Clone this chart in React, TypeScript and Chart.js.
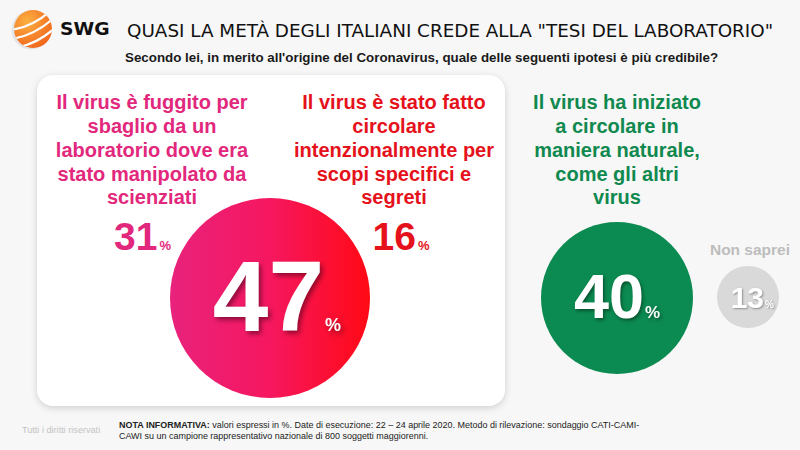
import React, { useEffect, useLayoutEffect, useRef } from 'react';
import { Chart, registerables } from 'chart.js';

Chart.register(...registerables);

// ---------- data ----------
const titleText = 'QUASI LA METÀ DEGLI ITALIANI CREDE ALLA "TESI DEL LABORATORIO"';
const subtitleText = "Secondo lei, in merito all'origine del Coronavirus, quale delle seguenti ipotesi è più credibile?";
const answerLines: string[][] = [
  ['Il virus è fuggito per', 'sbaglio da un', 'laboratorio dove era', 'stato manipolato da', 'scienziati'],
  ['Il virus è stato fatto', 'circolare', 'intenzionalmente per', 'scopi specifici e', 'segreti'],
  ['Il virus ha iniziato', 'a circolare in', 'maniera naturale,', 'come gli altri', 'virus'],
  ['Non saprei'],
];
const answerValues = [31, 16, 40, 13];
// which answers each circle sums up: lab thesis (31+16), natural, don't know
const circleMembers: number[][] = [[0, 1], [2], [3]];
const noteBold = 'NOTA INFORMATIVA:';
const noteLine1 = ' valori espressi in %. Date di esecuzione: 22 – 24 aprile 2020. Metodo di rilevazione: sondaggio CATI-CAMI-';
const noteLine2 = 'CAWI su un campione rappresentativo nazionale di 800 soggetti maggiorenni.';
const rightsText = 'Tutti i diritti riservati';

// ---------- styles / layout ----------
const FONT = '"Liberation Sans", Arial, sans-serif';
const PINK = '#e2287c';
const RED = '#e5121c';
const GREEN = '#10894f';
const GREY = '#bdbdbd';

const circleStyles = [
  { cx: 270, cy: 297.5, pxPerPct: 100 / 47, fill: 'gradient', font: 100, dx: 54, dy: 33, pct: 18, shadow: 'rgba(60,0,20,0.55)' },
  { cx: 617, cy: 298, pxPerPct: 1.9, fill: '#0b8a51', font: 63, dx: 27, dy: 20, pct: 17, shadow: 'rgba(0,40,20,0.55)' },
  { cx: 748, cy: 297, pxPerPct: 31 / 13, fill: '#d9d9d9', font: 30, dx: 16, dy: 11, pct: 10, shadow: 'rgba(0,0,0,0.35)' },
];

const textBlocks = [
  { cx: 152, top: 91.3, color: PINK, size: 20 },
  { cx: 394, top: 91.3, color: RED, size: 20 },
  { cx: 617, top: 91.3, color: GREEN, size: 20 },
  { cx: 750, top: 241.5, color: GREY, size: 15.5 },
];

const subValueStyles = [
  { cx: 142.5, top: 217, color: PINK },
  { cx: 401, top: 217, color: RED },
];

function FitText({ left, top, width, style, children }: any) {
  const ref = useRef<HTMLDivElement>(null);
  useLayoutEffect(() => {
    const el = ref.current;
    if (!el) return;
    const fit = () => {
      el.style.transform = 'none';
      const w = el.offsetWidth;
      if (w > 0) el.style.transform = `scaleX(${width / w})`;
    };
    fit();
    (document as any).fonts?.ready?.then(fit);
  }, [width]);
  return (
    <div
      ref={ref}
      style={{ position: 'absolute', left, top, whiteSpace: 'nowrap', transformOrigin: 'left top', ...style }}
    >
      {children}
    </div>
  );
}

function CircleChart({ value, st }: { value: number; st: any }) {
  const ref = useRef<HTMLCanvasElement>(null);
  const r = value * st.pxPerPct;
  const size = Math.ceil(2 * r + 12);
  useEffect(() => {
    if (!ref.current) return;
    const labelPlugin = {
      id: 'circleLabel',
      afterDatasetsDraw(chart: any) {
        const el = chart.getDatasetMeta(0).data[0];
        if (!el) return;
        const v = chart.data.datasets[0].data[0].v;
        const ctx = chart.ctx;
        ctx.save();
        ctx.fillStyle = '#ffffff';
        ctx.shadowColor = st.shadow;
        ctx.shadowOffsetX = Math.max(1, st.font / 40);
        ctx.shadowOffsetY = Math.max(1, st.font / 30);
        ctx.shadowBlur = Math.max(2, st.font / 20);
        ctx.textBaseline = 'alphabetic';
        ctx.font = `bold ${st.font}px ${FONT}`;
        ctx.textAlign = 'right';
        ctx.fillText(String(v), el.x + st.dx, el.y + st.dy);
        ctx.font = `bold ${st.pct}px ${FONT}`;
        ctx.textAlign = 'left';
        ctx.fillText('%', el.x + st.dx + 1, el.y + st.dy);
        ctx.restore();
      },
    };
    const chart = new Chart(ref.current, {
      type: 'bubble',
      data: {
        datasets: [
          {
            data: [{ x: 0, y: 0, r, v: value } as any],
            backgroundColor: (c: any) => {
              if (st.fill !== 'gradient') return st.fill;
              const ch = c.chart;
              const area = ch.chartArea;
              if (!area) return '#f41863';
              const mx = (area.left + area.right) / 2;
              const g = ch.ctx.createLinearGradient(mx - r, 0, mx + r, 0);
              g.addColorStop(0, '#e8227c');
              g.addColorStop(0.5, '#f6175f');
              g.addColorStop(1, '#ff0914');
              return g;
            },
            borderWidth: 0,
            hoverRadius: 0,
            clip: false as any,
          },
        ],
      },
      options: {
        animation: false,
        responsive: true,
        maintainAspectRatio: false,
        events: [],
        layout: { padding: 0, autoPadding: false } as any,
        plugins: { legend: { display: false }, tooltip: { enabled: false } },
        scales: {
          x: { type: 'linear', min: -1, max: 1, display: false },
          y: { type: 'linear', min: -1, max: 1, display: false },
        },
      },
      plugins: [labelPlugin],
    });
    return () => chart.destroy();
  }, [value]);
  return (
    <div
      style={{
        position: 'absolute',
        left: st.cx - size / 2,
        top: st.cy - size / 2,
        width: size,
        height: size,
      }}
    >
      <canvas ref={ref} />
    </div>
  );
}

function Logo() {
  return (
    <svg width={48} height={46} style={{ position: 'absolute', left: 8, top: 6 }}>
      <defs>
        <radialGradient id="lg" cx="35%" cy="30%" r="75%">
          <stop offset="0" stopColor="#fbb040" />
          <stop offset="1" stopColor="#f1651c" />
        </radialGradient>
        <clipPath id="lc">
          <circle cx={25} cy={23} r={19} />
        </clipPath>
      </defs>
      <circle cx={23} cy={24} r={19.5} fill="#e4e4e4" />
      <circle cx={25} cy={23} r={19} fill="url(#lg)" />
      <g clipPath="url(#lc)" stroke="#fff" strokeWidth={2.2} fill="none">
        <path d="M2 24 Q24 22 46 2" />
        <path d="M4 33 Q28 29 48 10" />
        <path d="M8 42 Q32 37 50 19" />
      </g>
    </svg>
  );
}

export default function App() {
  const circleValues = circleMembers.map((m) => m.reduce((s, i) => s + answerValues[i], 0));
  return (
    <div
      style={{
        position: 'absolute',
        left: 0,
        top: 0,
        width: 800,
        height: 450,
        background: '#f7f7f7',
        overflow: 'hidden',
        fontFamily: FONT,
      }}
    >
      <Logo />
      <FitText left={60} top={20.2} width={50} style={{ font: 'bold 18px/18px "DejaVu Sans", sans-serif', color: '#111' }}>
        SWG
      </FitText>
      <FitText left={127} top={22} width={646} style={{ font: '18px/18px "DejaVu Sans", sans-serif', color: '#111' }}>
        {titleText}
      </FitText>
      <FitText left={125} top={50.5} width={593} style={{ font: `bold 13px/13px ${FONT}`, color: '#1a1a1a' }}>
        {subtitleText}
      </FitText>

      {/* white card */}
      <div
        style={{
          position: 'absolute',
          left: 37,
          top: 75,
          width: 468,
          height: 331,
          background: '#ffffff',
          borderRadius: 16,
          boxShadow: '0 2px 7px rgba(0,0,0,0.16)',
        }}
      />

      {textBlocks.map((b, i) => (
        <div
          key={i}
          style={{
            position: 'absolute',
            left: b.cx - 130,
            width: 260,
            top: b.top,
            textAlign: 'center',
            font: `bold ${b.size}px/${b.size === 20 ? 23.75 : b.size}px ${FONT}`,
            color: b.color,
            whiteSpace: 'nowrap',
          }}
        >
          {answerLines[i].map((l, j) => (
            <div key={j}>{l}</div>
          ))}
        </div>
      ))}

      {subValueStyles.map((s, i) => (
        <div
          key={i}
          style={{
            position: 'absolute',
            left: s.cx - 60,
            width: 120,
            top: s.top,
            textAlign: 'center',
            color: s.color,
            font: `bold 39px/39px ${FONT}`,
          }}
        >
          {answerValues[i]}
          <span style={{ fontSize: 13, marginLeft: 2 }}>%</span>
        </div>
      ))}

      {circleValues.map((v, i) => (
        <CircleChart key={i} value={v} st={circleStyles[i]} />
      ))}

      <FitText left={22} top={425} width={78} style={{ font: `9px/10px ${FONT}`, color: '#c4c4c4' }}>
        {rightsText}
      </FitText>
      <FitText left={119} top={420} width={520} style={{ font: `9.5px/10.5px ${FONT}`, color: '#222' }}>
        <b>{noteBold}</b>
        {noteLine1}
        <br />
        {noteLine2}
      </FitText>
    </div>
  );
}
